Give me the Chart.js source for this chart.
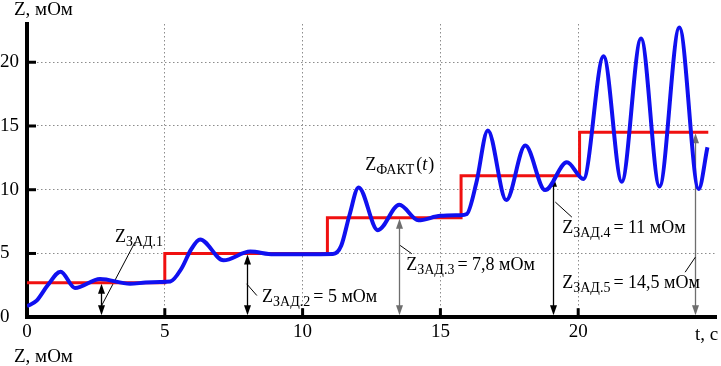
<!DOCTYPE html>
<html lang="ru">
<head>
<meta charset="UTF-8">
<title>Z(t)</title>
<script src="https://cdn.jsdelivr.net/npm/chart.js"></script>
<style>
  html, body { margin: 0; padding: 0; background: #fff; font-family: "Liberation Serif", "Times New Roman", serif; }
  #wrap { width: 721px; height: 366px; }
</style>
</head>
<body>
<div id="wrap"><canvas id="chart" width="721" height="366"></canvas></div>
<script>
// tick labels
const xTicks = [0, 5, 10, 15, 20];
const yTicks = [0, 5, 10, 15, 20];

// Z_ЗАД - заданное значение (ступени)
const stepT = [0, 5, 10.9, 15.75, 20.05, 24.72];
const stepZ = [2.7, 5, 7.8, 11.1, 14.5, 14.5];

// Z_ФАКТ(t) - фактическое значение
const factT = [0, 0.35, 0.75, 1.22, 1.74, 2.65, 3.74, 4.3, 4.83, 5.2, 5.6, 5.95, 6.28, 7.13, 8.1, 8.94, 10, 11.1, 11.4, 11.7,
               12.03, 12.73, 13.51, 14.2, 15.0, 15.72, 15.96, 16.3, 16.72, 17.39, 18.08, 18.8, 19.59, 20.19, 20.92, 21.58,
               22.28, 22.95, 23.67, 24.37, 24.69];
const factZ = [0.85, 1.3, 2.5, 3.57, 2.3, 3.0, 2.62, 2.72, 2.76, 2.8, 3.8, 5.3, 6.1, 4.46, 5.15, 4.93, 4.93, 4.95, 5.6, 8.0,
               10.18, 6.83, 8.82, 7.6, 7.95, 8.0, 8.1, 10.5, 14.65, 9.19, 13.46, 9.97, 12.15, 10.84, 20.47, 10.63,
               21.87, 10.26, 22.73, 10.06, 13.33];

// стрелки Z_ЗАД.i
const arrowT = [2.7, 7.97, 13.48, 19.1, 24.25];
const arrowZ = [2.7, 5, 7.8, 11.1, 14.5];
const arrowSub = ['ЗАД.1', 'ЗАД.2', 'ЗАД.3', 'ЗАД.4', 'ЗАД.5'];
const arrowRest = ['', '= 5 мОм', '= 7,8 мОм', '= 11 мОм', '= 14,5 мОм'];

const FONT = '"Liberation Serif", "Times New Roman", serif';
const GREY = '#6e6e6e';

// label placement (data coords) and leader lines
const notes = [
    {t: 3.19, z: 5.86, lead: [2.71, 0.92, 3.92, 5.89], color: '#000'},
    {t: 8.53, z: 1.19, lead: [7.97, 2.62, 8.34, 1.70], color: '#000'},
    {t: 13.76, z: 3.67, lead: [13.54, 5.63, 13.96, 4.98], color: GREY},
    {t: 19.42, z: 6.57, lead: [19.17, 9.03, 19.77, 7.85], color: '#000'},
    {t: 19.42, z: 2.31, lead: [24.25, 4.71, 23.88, 3.53], color: GREY}
];

function zLabel(ctx, x, y, sub, rest) {
    ctx.font = '18px ' + FONT;
    ctx.fillText('Z', x, y);
    let w = ctx.measureText('Z').width;
    ctx.font = '14px ' + FONT;
    ctx.fillText(sub, x + w, y + 4);
    w += ctx.measureText(sub).width;
    if (rest) {
        ctx.font = '18px ' + FONT;
        ctx.fillText(rest, x + w + 3, y);
    }
    return w;
}

function head(ctx, x, tipY, dir) {
    // dir = 1 pointing down, -1 pointing up
    ctx.beginPath();
    ctx.moveTo(x, tipY);
    ctx.lineTo(x - 3.5, tipY - dir * 10);
    ctx.lineTo(x + 3.5, tipY - dir * 10);
    ctx.closePath();
    ctx.fill();
}

const decor = {
    id: 'decor',
    beforeDatasetsDraw(chart) {
        const ctx = chart.ctx, xs = chart.scales.x, ys = chart.scales.y;
        ctx.save();
        arrowT.forEach((t, i) => {
            const x = Math.round(xs.getPixelForValue(t)) + 0.5;
            const yb = ys.getPixelForValue(0) - 2;
            const yt = ys.getPixelForValue(arrowZ[i]) + 1;
            const c = notes[i].color;
            ctx.strokeStyle = c;
            ctx.fillStyle = c;
            ctx.lineWidth = 1.3;
            ctx.beginPath();
            ctx.moveTo(x, yb - 4);
            ctx.lineTo(x, yt + 4);
            ctx.stroke();
            head(ctx, x, yb, 1);
            head(ctx, x, yt, -1);
            // leader
            const l = notes[i].lead;
            ctx.strokeStyle = '#000';
            ctx.lineWidth = 1;
            ctx.beginPath();
            ctx.moveTo(xs.getPixelForValue(l[0]), ys.getPixelForValue(l[1]));
            ctx.lineTo(xs.getPixelForValue(l[2]), ys.getPixelForValue(l[3]));
            ctx.stroke();
        });
        ctx.restore();
    },
    afterDraw(chart) {
        const ctx = chart.ctx, xs = chart.scales.x, ys = chart.scales.y;
        const a = chart.chartArea;
        ctx.save();
        // inner tick marks
        ctx.strokeStyle = '#000';
        ctx.lineWidth = 3;
        xTicks.forEach(v => {
            if (v === 0) return;
            const x = xs.getPixelForValue(v);
            ctx.beginPath();
            ctx.moveTo(x, a.bottom);
            ctx.lineTo(x, a.bottom - 9);
            ctx.stroke();
        });
        yTicks.forEach(v => {
            if (v === 0) return;
            const y = ys.getPixelForValue(v);
            ctx.beginPath();
            ctx.moveTo(a.left, y);
            ctx.lineTo(a.left + 9, y);
            ctx.stroke();
        });

        ctx.fillStyle = '#000';
        ctx.textBaseline = 'alphabetic';
        ctx.textAlign = 'left';
        // Z_ЗАД labels
        notes.forEach((n, i) => {
            zLabel(ctx, xs.getPixelForValue(n.t), ys.getPixelForValue(n.z), arrowSub[i], arrowRest[i]);
        });
        // Z_ФАКТ(t)
        const fx = xs.getPixelForValue(12.27), fy = ys.getPixelForValue(11.51);
        let w = zLabel(ctx, fx, fy, 'ФАКТ', '');
        ctx.font = '18px ' + FONT;
        ctx.fillText('(', fx + w + 2, fy);
        w += ctx.measureText('(').width + 2;
        ctx.font = 'italic 18px ' + FONT;
        ctx.fillText('t', fx + w, fy);
        w += ctx.measureText('t').width + 1;
        ctx.font = '18px ' + FONT;
        ctx.fillText(')', fx + w, fy);

        // axis titles
        ctx.font = '19px ' + FONT;
        ctx.fillText('Z, мОм', 14, 15);
        ctx.fillText('Z, мОм', 14, 362);
        ctx.fillText('t, с', 695, 340);
        ctx.restore();
    }
};

const gridColor = c => (c.tick && c.tick.value === 0) ? 'rgba(0,0,0,0)' : '#8c8c8c';

function draw() {
    new Chart(document.getElementById('chart'), {
        type: 'line',
        data: {
            datasets: [
                {
                    label: 'Z факт',
                    data: factT.map((t, i) => ({x: t, y: factZ[i]})),
                    borderColor: '#1010f0',
                    borderWidth: 4,
                    pointRadius: 0,
                    cubicInterpolationMode: 'monotone',
                    fill: false
                },
                {
                    label: 'Z зад',
                    data: stepT.map((t, i) => ({x: t, y: stepZ[i]})),
                    borderColor: '#f01010',
                    borderWidth: 3,
                    pointRadius: 0,
                    stepped: 'before',
                    fill: false
                }
            ]
        },
        options: {
            responsive: false,
            animation: false,
            events: [],
            layout: {padding: {left: 0, right: 5, top: 24, bottom: 20}},
            plugins: {legend: {display: false}, tooltip: {enabled: false}},
            scales: {
                x: {
                    type: 'linear',
                    min: 0,
                    max: 25,
                    afterBuildTicks: s => { s.ticks = xTicks.map(v => ({value: v})); },
                    ticks: {color: '#000', font: {family: FONT, size: 19}, padding: 3, maxRotation: 0, autoSkip: false},
                    grid: {color: gridColor, lineWidth: 1, drawTicks: false},
                    border: {display: true, color: '#000', width: 4, dash: [1.5, 2.5]}
                },
                y: {
                    type: 'linear',
                    min: 0,
                    max: 23,
                    afterBuildTicks: s => { s.ticks = yTicks.map(v => ({value: v})); },
                    ticks: {color: '#000', font: {family: FONT, size: 19}, padding: 4, crossAlign: 'far', autoSkip: false},
                    grid: {color: gridColor, lineWidth: 1, drawTicks: false},
                    border: {display: true, color: '#000', width: 4, dash: [1.5, 2.5]}
                }
            }
        },
        plugins: [decor]
    });
}

Promise.all([
    document.fonts.load('18px "Liberation Serif"'),
    document.fonts.load('italic 18px "Liberation Serif"')
]).then(draw, draw);
</script>
</body>
</html>
